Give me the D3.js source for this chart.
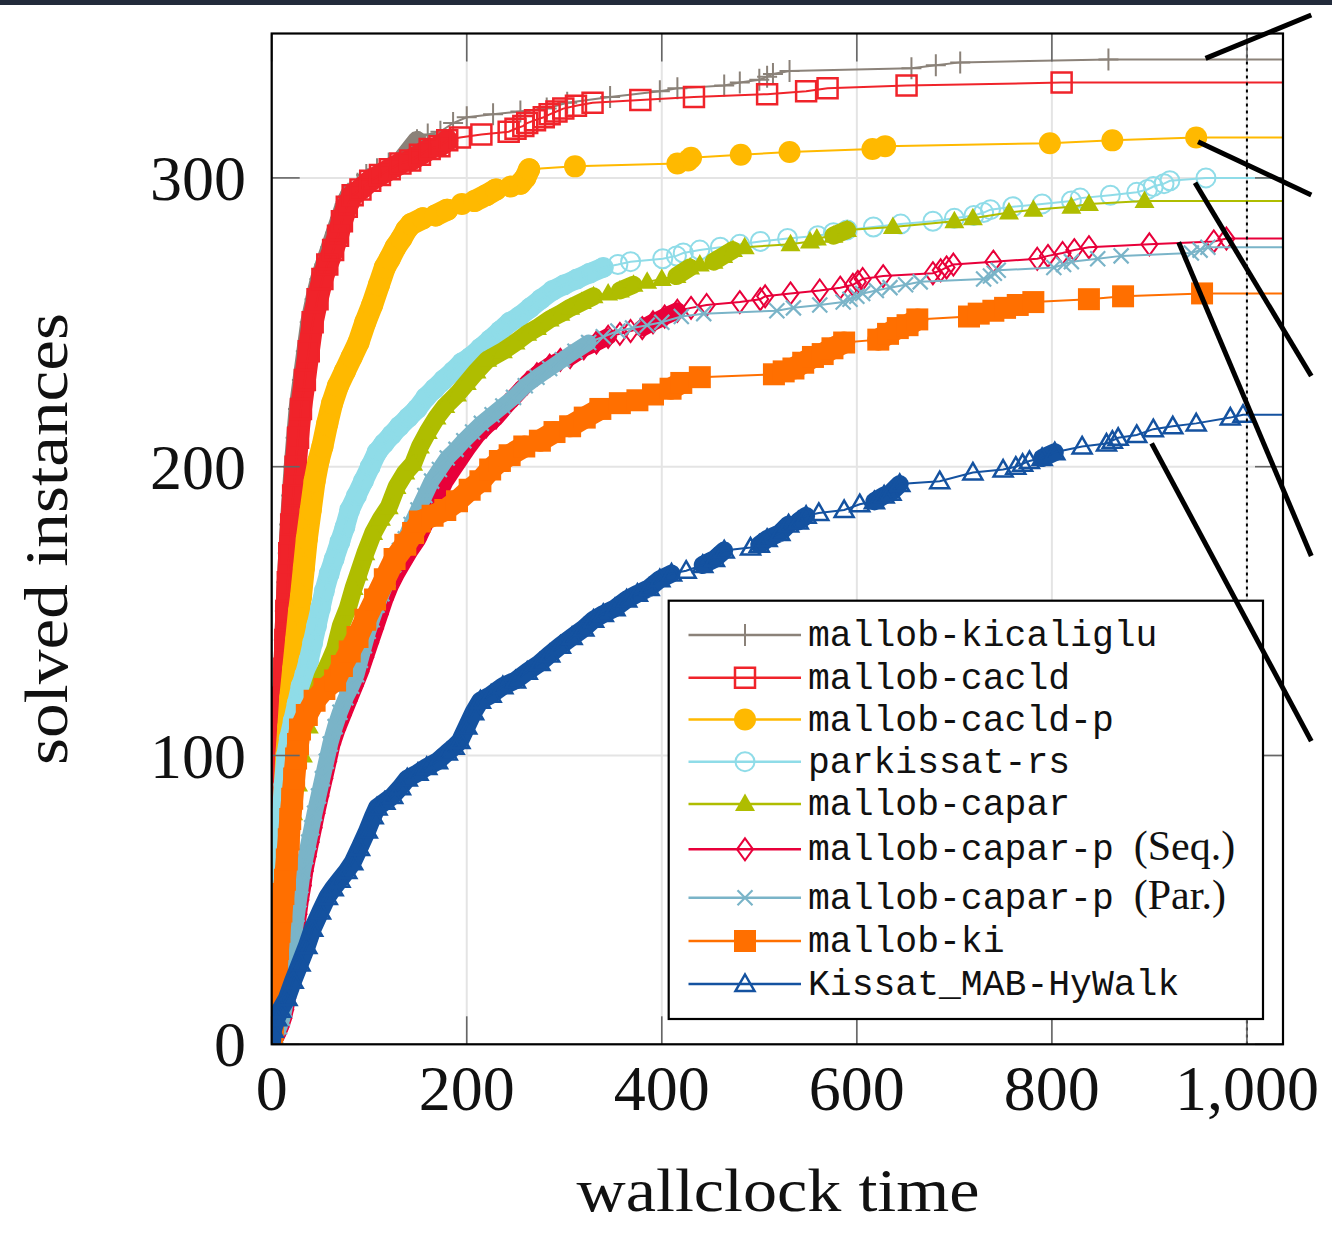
<!DOCTYPE html>
<html>
<head>
<meta charset="utf-8">
<style>
  body { margin: 0; background: #fff; }
  svg { display: block; }
  .tick-label { font-family: "Liberation Serif", "DejaVu Serif", serif; font-size: 64px; fill: #111; }
  .axis-title { font-family: "Liberation Serif", "DejaVu Serif", serif; font-size: 62px; fill: #111; }
  .legend-text { font-family: "Liberation Mono", "DejaVu Sans Mono", monospace; font-size: 36.4px; fill: #111; }
  .legend-text .paren { font-family: "Liberation Serif", serif; font-size: 42px; }
</style>
</head>
<body>
<svg width="1332" height="1239" class="cactus"></svg>
<script src="https://cdn.jsdelivr.net/npm/d3@7/dist/d3.min.js"></script>
<script>
// ---- data ----
const xTicks = [0, 200, 400, 600, 800, 1000];
const yTicks = [0, 100, 200, 300];
const xMax = 1037, yMax = 350;
const timeLimit = 1000;

const seriesNames = ["mallob-kicaliglu", "mallob-cacld", "mallob-cacld-p", "parkissat-rs", "mallob-capar",
  "mallob-capar-p (Seq.)", "mallob-capar-p (Par.)", "mallob-ki", "Kissat_MAB-HyWalk"];

// [time, solved]
const kicaliglu = [[0,0],[0.3,5],[0.7,10],[1,15],[1.5,20],[2,25],[2.5,30],[3,40],[3.5,50],[4.5,60],[5.5,70],[7,80],[7.5,90],[8.5,100],[9.5,110],[10.5,120],[11.5,130],[12.5,140],[13.5,150],[15,160],[16.5,170],[18,180],[20,190],[22,200],[24.5,210],[27,220],[31,230],[35,240],[39,250],[44,258],[49,265],[54,270],[60,276],[65,281],[70,286],[75,291],[81,295],[88,298],[97,301],[108,303],[120,305],[135,307],[149,313],[160,315],[173,316],[186,319],[200,321],[227,322],[255,323],[282,324],[303,326],[347,328],[398,330],[416,331],[464,332],[480,333],[500,334],[508,335],[514,336],[531,337],[656,338],[681,339],[706,340],[858,341]];
const cacld = [[0,0],[0.5,5],[1,10],[1.5,15],[2,20],[2.5,25],[3,30],[4,40],[4.5,50],[6,60],[7,70],[8.5,80],[9,90],[10,100],[11,110],[12,120],[13,130],[14,140],[15,150],[16.5,160],[18,170],[20,180],[22,190],[24.5,200],[27,210],[30,220],[34,230],[38,240],[42,250],[47,258],[52,265],[57,270],[63,275],[68,280],[72,285],[77,290],[83,294],[91,296],[101,299],[111,301],[121,303],[132,305],[142,306],[152,308],[162,310],[172,311],[180,313],[193,314],[215,315],[243,316],[250,317],[258,318],[262,319],[270,320],[279,321],[285,322],[292,323],[299,324],[312,325],[329,326],[378,327],[433,328],[508,329],[548,330],[570,331],[651,332],[810,333]];
const cacldP = [[0,0],[1,5],[2,10],[2.5,15],[3.5,20],[4.5,25],[5.5,30],[6.5,35],[7.5,40],[8.5,50],[10,60],[11,70],[12.5,80],[13.5,90],[15,100],[17,110],[19,120],[22,130],[25,140],[28,150],[30,155],[33,165],[36,175],[40,185],[44,195],[48,202],[52,207],[57,215],[62,222],[68,228],[75,233],[82,238],[89,243],[96,250],[103,256],[110,263],[116,269],[121,272],[127,276],[133,279],[138,282],[143,284],[155,286],[168,287],[180,289],[195,291],[208,292],[220,294],[230,296],[245,297],[255,298],[260,300],[264,303],[311,304],[416,305],[427,306],[430,307],[481,308],[531,309],[616,310],[629,311],[798,312],[862,313],[948,314]];
const parkissat = [[0,0],[0.5,5],[1,10],[1.5,15],[2,20],[3,30],[4,40],[5.5,50],[7,60],[8.5,70],[10.5,80],[12.5,90],[15,100],[18,106],[22,112],[26,118],[30,124],[34,128],[38,133],[42,139],[46,145],[50,151],[54,157],[59,163],[64,168],[70,174],[75,179],[80,185],[87,190],[94,195],[101,200],[108,205],[115,208],[123,211],[131,214],[140,217],[149,220],[158,224],[167,227],[176,230],[186,233],[195,236],[204,238],[214,241],[224,244],[234,247],[244,250],[254,252],[265,255],[276,258],[288,261],[300,263],[313,265],[326,267],[340,269],[355,270],[368,271],[401,272],[415,273],[422,274],[439,275],[460,276],[480,277],[501,278],[529,279],[560,280],[576,281],[590,282],[617,283],[645,284],[678,285],[700,286],[720,287],[730,288],[737,289],[760,290],[790,291],[820,292],[829,293],[860,294],[887,295],[898,296],[904,297],[915,298],[921,299],[958,300]];
const capar = [[0,0],[2,10],[4,20],[6,30],[9,40],[12,50],[15,60],[18,70],[22,80],[27,90],[32,100],[38,110],[45,120],[52,127],[60,133],[65,137],[71,145],[78,151],[84,158],[89,163],[96,170],[104,177],[112,182],[120,186],[128,193],[137,198],[145,201],[152,207],[160,212],[169,217],[178,221],[190,225],[200,229],[210,233],[221,237],[237,240],[250,243],[262,246],[272,248],[285,251],[296,253],[306,255],[318,257],[330,259],[345,260],[357,261],[371,263],[385,264],[400,265],[415,266],[429,269],[439,270],[453,271],[463,273],[473,275],[485,276],[532,277],[552,278],[559,279],[576,280],[590,282],[637,283],[700,285],[719,286],[756,288],[781,289],[820,290],[838,291],[895,292]];
const caparPSeq = [[0,0],[5,3],[9,6],[12,9],[14,12],[16,16],[18,20],[20,25],[22,30],[24,35],[25.5,40],[27.5,45],[29.5,50],[32,55],[34,60],[37,65],[40,70],[43,75],[46,80],[50,86],[54,92],[58,98],[62,104],[67,109],[73,114],[79,119],[85,124],[91,129],[96,134],[101,139],[106,144],[111,149],[116,154],[122,159],[128,163],[135,167],[142,171],[150,175],[157,180],[164,185],[171,190],[178,195],[186,199],[194,203],[202,207],[211,211],[220,214],[230,217],[240,221],[251,225],[262,229],[272,232],[285,235],[296,237],[306,238],[320,241],[333,243],[345,245],[357,246],[368,247],[380,248],[391,250],[403,252],[416,254],[430,255],[446,256],[480,257],[501,258],[506,259],[532,260],[562,261],[583,262],[596,263],[601,264],[606,265],[627,266],[678,267],[686,268],[692,269],[699,270],[740,271],[785,272],[796,273],[811,274],[823,275],[838,276],[900,277],[966,278],[979,279]];
const caparPPar = [[0,0],[4,3],[8,6],[11,9],[13,12],[15,16],[17,20],[19,25],[21,30],[22.5,35],[24,40],[26,45],[28,50],[30,55],[32,60],[35,65],[38,70],[41,75],[44,80],[48,86],[52,92],[56,98],[60,104],[65,110],[70,115],[76,120],[82,124],[87,128],[91,133],[95,138],[99,143],[103,147],[108,152],[113,156],[119,161],[125,166],[131,171],[137,175],[143,180],[150,185],[157,190],[164,195],[172,199],[180,203],[189,206],[197,209],[206,212],[215,215],[226,218],[237,221],[248,224],[260,228],[272,231],[285,234],[298,237],[311,240],[325,243],[340,245],[355,247],[370,248],[385,249],[400,250],[420,252],[443,253],[518,254],[535,255],[562,256],[586,257],[593,258],[600,259],[606,260],[620,261],[634,262],[650,263],[665,264],[730,265],[737,266],[741,267],[745,268],[802,269],[812,270],[820,271],[847,272],[871,273],[943,274],[952,275],[960,276]];
const ki = [[0,0],[1,5],[2,10],[3,16],[4,22],[5.5,28],[6.5,33],[8,39],[10,46],[12,52],[13.6,57],[15.5,64],[17.5,71],[19,78],[21,85],[23,92],[25,99],[27,104],[29,109],[36,114],[44,119],[54,123],[65,126],[72,131],[80,136],[88,141],[96,147],[106,154],[116,161],[126,168],[137,173],[145,177],[152,181],[165,183],[178,185],[190,188],[203,192],[214,195],[224,199],[234,202],[244,204],[259,207],[275,209],[290,212],[306,214],[321,217],[337,220],[357,222],[375,223],[391,225],[409,227],[420,229],[439,231],[515,232],[525,233],[535,234],[545,236],[555,238],[565,239],[575,241],[587,243],[622,244],[632,246],[642,248],[652,249],[662,251],[715,252],[725,253],[740,254],[752,255],[765,256],[781,257],[838,258],[873,259],[954,260]];
const kissatMab = [[0,0],[1.4,5],[5,9],[9,12],[15.7,16],[22,22],[29,28],[36,34],[42,40],[50,46],[57,51],[63,54],[70,57],[77,60],[83,63],[90,68],[98,74],[104,79],[108,82],[116,84],[124,86],[132,89],[139,92],[150,94],[159,96],[170,98],[180,101],[187,103],[193,105],[200,110],[207,115],[214,119],[225,121],[237,124],[250,126],[262,129],[275,132],[285,135],[296,138],[308,141],[320,144],[330,147],[340,149],[352,151],[364,154],[375,156],[387,158],[398,161],[410,163],[425,164],[442,166],[454,168],[464,171],[491,172],[500,173],[508,175],[521,177],[530,180],[540,181],[548,183],[561,184],[587,185],[603,187],[618,188],[628,190],[635,191],[644,194],[685,195],[719,198],[750,199],[763,200],[770,201],[777,202],[790,203],[803,205],[831,207],[856,208],[862,209],[868,210],[887,211],[904,213],[924,214],[948,215],[983,217],[996,218]];

const seriesData = [kicaliglu, cacld, cacldP, parkissat, capar, caparPSeq, caparPPar, ki, kissatMab];

// magnifier leader lines [from, to] in data units
const zoomLinks = [
  [[957.6, 341.4], [1066, 356.4]],
  [[949.9, 312.5], [1066, 294.1]],
  [[946.8, 298.3], [1066, 231.4]],
  [[930.0, 277.7], [1066, 169.1]],
  [[902.3, 208.1], [1066, 105.0]]
];

// ---- styles ----
const circle = r => `M${r},0A${r},${r} 0 1,1 ${-r},0A${r},${r} 0 1,1 ${r},0Z`;
const styles = [
  {color: "#8b8279", mark: "M0,-11V11M-10,0H10", fill: false, sw: 2, band: 19, minStep: 4},
  {color: "#f0232a", mark: "M-10,-10H10V10H-10Z", fill: false, sw: 2.5, band: 22, minStep: 2},
  {color: "#ffb900", mark: circle(11), fill: true, sw: 0, band: 22, minStep: 2},
  {color: "#8fdce8", mark: circle(9.5), fill: false, sw: 2, band: 20, minStep: 2},
  {color: "#afbd00", mark: "M0,-10.5L10,7L-10,7Z", fill: true, sw: 0, band: 18, minStep: 2},
  {color: "#e8003a", mark: "M0,-11L8,0L0,11L-8,0Z", fill: false, sw: 2, band: 17, minStep: 2},
  {color: "#7ab4c8", mark: "M-7.5,-7.5L7.5,7.5M-7.5,7.5L7.5,-7.5", fill: false, sw: 2.2, band: 16, minStep: 2},
  {color: "#ff6f00", mark: "M-11,-11H11V11H-11Z", fill: true, sw: 0, band: 22, minStep: 2},
  {color: "#1452a0", mark: "M0,-9.5L9.5,7L-9.5,7Z", fill: false, sw: 2.5, band: 18, minStep: 2}
];

const svg = d3.select(".cactus");
const plot = {left: 271.7, right: 1283, top: 33.5, bottom: 1044.3};

var x = d3.scaleLinear().domain([0, xMax]).range([plot.left, plot.right]),
    y = d3.scaleLinear().domain([0, yMax]).range([plot.bottom, plot.top]);

svg.append("rect").attr("x", 0).attr("y", 0).attr("width", 1332).attr("height", 5).attr("fill", "#222b3b");

svg.append("clipPath").attr("id", "clip")
    .append("rect").attr("x", plot.left).attr("y", plot.top)
    .attr("width", plot.right - plot.left).attr("height", plot.bottom - plot.top);

// grid
const grid = svg.append("g").attr("stroke", "#e4e4e4").attr("stroke-width", 2);
grid.selectAll(".gx").data(xTicks).enter().append("line")
    .attr("x1", d => x(d)).attr("x2", d => x(d)).attr("y1", plot.top).attr("y2", plot.bottom);
grid.selectAll(".gy").data(yTicks).enter().append("line")
    .attr("y1", d => y(d)).attr("y2", d => y(d)).attr("x1", plot.left).attr("x2", plot.right);

// series
const area = svg.append("g").attr("clip-path", "url(#clip)");
const line = d3.line().x(d => x(d[0])).y(d => y(d[1]));

seriesData.forEach(function(data, i) {
    const st = styles[i];
    const g = area.append("g");
    // in the steep part one marker per instance piles up into a solid band
    let band = "";
    for (let k = 1; k < data.length; k++) {
        const x0 = x(data[k-1][0]), y0 = y(data[k-1][1]), x1 = x(data[k][0]), y1 = y(data[k][1]);
        const dx = Math.abs(x1 - x0), dy = Math.abs(y1 - y0);
        if (Math.hypot(dx, dy) < st.band * 1.6 && data[k][1] - data[k-1][1] >= st.minStep && dy >= 0.4 * dx)
            band += `M${x0},${y0}L${x1},${y1}`;
    }
    g.append("path").attr("d", band).attr("fill", "none").attr("stroke", st.color)
        .attr("stroke-width", st.band).attr("stroke-linecap", "round").attr("stroke-linejoin", "round");
    const last = data[data.length - 1];
    g.append("path").datum(data.concat([[xMax, last[1]]])).attr("d", line)
        .attr("fill", "none").attr("stroke", st.color).attr("stroke-width", 2);
    g.selectAll(".mark").data(data).enter().append("path")
        .attr("transform", d => `translate(${x(d[0])},${y(d[1])})`)
        .attr("d", st.mark)
        .attr("fill", st.fill ? st.color : "none")
        .attr("stroke", st.fill ? "none" : st.color)
        .attr("stroke-width", st.sw);
});

// time limit
svg.append("line").attr("x1", x(timeLimit)).attr("x2", x(timeLimit))
    .attr("y1", plot.top).attr("y2", plot.bottom)
    .attr("stroke", "#000").attr("stroke-width", 2).attr("stroke-dasharray", "3,4");

// ticks on all four sides
const ticks = svg.append("g").attr("stroke", "#666").attr("stroke-width", 1.6);
xTicks.forEach(function(t) {
    ticks.append("line").attr("x1", x(t)).attr("x2", x(t)).attr("y1", plot.bottom).attr("y2", plot.bottom - 28);
    ticks.append("line").attr("x1", x(t)).attr("x2", x(t)).attr("y1", plot.top).attr("y2", plot.top + 28);
});
yTicks.forEach(function(t) {
    ticks.append("line").attr("y1", y(t)).attr("y2", y(t)).attr("x1", plot.left).attr("x2", plot.left + 28);
    ticks.append("line").attr("y1", y(t)).attr("y2", y(t)).attr("x1", plot.right).attr("x2", plot.right - 28);
});

svg.append("rect").attr("x", plot.left).attr("y", plot.top)
    .attr("width", plot.right - plot.left).attr("height", plot.bottom - plot.top)
    .attr("fill", "none").attr("stroke", "#000").attr("stroke-width", 2.2);

// tick labels
svg.selectAll(".xl").data(xTicks).enter().append("text").attr("class", "tick-label")
    .attr("x", d => x(d)).attr("y", 1110).attr("text-anchor", "middle").text(d3.format(","));
svg.selectAll(".yl").data(yTicks).enter().append("text").attr("class", "tick-label")
    .attr("x", 246).attr("y", d => y(d) + 22).attr("text-anchor", "end").text(d => d);

// axis titles
svg.append("text").attr("class", "axis-title").attr("x", 778).attr("y", 1211)
    .attr("text-anchor", "middle").attr("textLength", 403).attr("lengthAdjust", "spacingAndGlyphs")
    .text("wallclock time");
svg.append("text").attr("class", "axis-title").attr("transform", "translate(67,539) rotate(-90)")
    .attr("text-anchor", "middle").attr("textLength", 452).attr("lengthAdjust", "spacingAndGlyphs")
    .text("solved instances");

// legend
const legendRows = [635, 677.7, 719.5, 761.7, 804, 849.3, 897.7, 941, 984];
const legend = svg.append("g");
legend.append("rect").attr("x", 668.7).attr("y", 600.7).attr("width", 594.3).attr("height", 418.3)
    .attr("fill", "#fff").attr("stroke", "#000").attr("stroke-width", 2.2);
seriesNames.forEach(function(name, i) {
    const st = styles[i], ry = legendRows[i];
    legend.append("line").attr("x1", 688.5).attr("x2", 801).attr("y1", ry).attr("y2", ry)
        .attr("stroke", st.color).attr("stroke-width", 2.5);
    legend.append("path").attr("transform", `translate(745,${ry})`).attr("d", st.mark)
        .attr("fill", st.fill ? st.color : "none")
        .attr("stroke", st.fill ? "none" : st.color).attr("stroke-width", st.sw);
    const parts = name.split(" (");
    const txt = legend.append("text").attr("class", "legend-text").attr("x", 808).attr("y", ry + 11);
    txt.append("tspan").text(parts[0]);
    if (parts.length > 1) txt.append("tspan").attr("class", "paren").attr("dx", 20).text("(" + parts[1]);
});

// magnifier leader lines
svg.selectAll(".link").data(zoomLinks).enter().append("line")
    .attr("x1", d => x(d[0][0])).attr("y1", d => y(d[0][1]))
    .attr("x2", d => x(d[1][0])).attr("y2", d => y(d[1][1]))
    .attr("stroke", "#000").attr("stroke-width", 5);
</script>
</body>
</html>
